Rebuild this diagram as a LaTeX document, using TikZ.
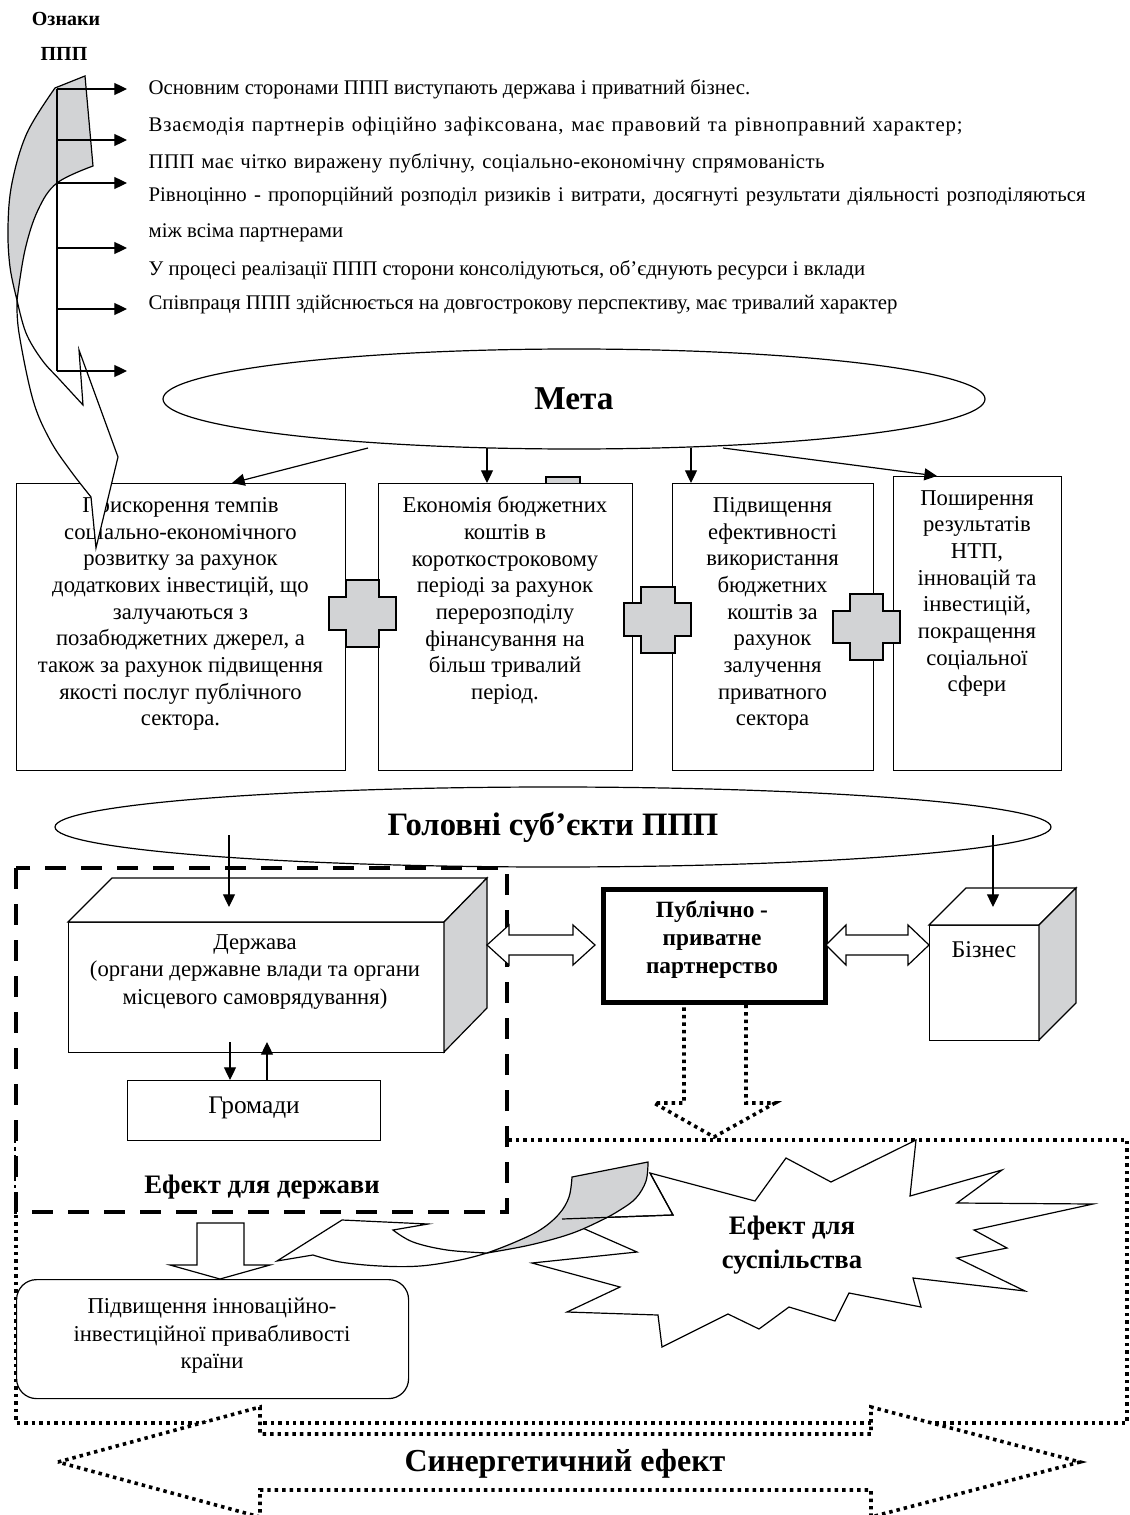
\documentclass[tikz,border=0pt]{standalone}
\usepackage{fontspec}
\setmainfont{Liberation Serif}
\usetikzlibrary{arrows.meta,shapes.geometric}
\definecolor{shade}{RGB}{210,211,213}
\newcommand\plusshape[8]{\draw[crossfill] (#2,#5) -- (#3,#5) -- (#3,#6) -- (#4,#6) -- (#4,#7) -- (#3,#7) -- (#3,#8) -- (#2,#8) -- (#2,#7) -- (#1,#7) -- (#1,#6) -- (#2,#6) -- cycle;}
\begin{document}
\begin{tikzpicture}[x=0.75pt,y=-0.75pt,line width=0.9pt,
  arr/.style={-{Triangle[length=9.5pt,width=9pt]}},
  lbl/.style={inner sep=0pt,anchor=west,font=\fontsize{15.6}{18}\selectfont},
  btxt/.style={inner sep=0pt,align=center,font=\fontsize{17}{20}\selectfont},
  frame/.style={draw,fill=white,inner sep=0pt,anchor=north west},
  dotl/.style={line width=2.7pt,dash pattern=on 2.6pt off 3pt},
  dashl/.style={line width=3.1pt,dash pattern=on 15.75pt off 11.25pt},
  crossfill/.style={draw,fill=shade},
  boldtxt/.style={inner sep=0pt,align=center,font=\fontsize{20}{25.5}\selectfont\bfseries},
]
\useasboundingbox (0,0) rectangle (1129,1515);
\fill[white] (0,0) rectangle (1129,1515);

% ---------- title ----------
\node[inner sep=0pt,font=\fontsize{15}{18}\selectfont\bfseries] (ozn) at (66,19) {Ознаки};
\node[inner sep=0pt,font=\fontsize{15}{18}\selectfont\bfseries] (ppp) at (64,54) {ППП};

% ---------- top text lines ----------
\node[lbl] (l1) at (148,89) {Основним сторонами ППП виступають держава і приватний бізнес.};
\node[lbl] (l2) at (148,127) {\addfontfeatures{LetterSpace=4}\makebox[610.5pt][s]{Взаємодія партнерів офіційно зафіксована, має правовий та рівноправний характер;}};
\node[lbl] (l3) at (148,163) {\addfontfeatures{LetterSpace=2}\makebox[507pt][s]{ППП має чітко виражену публічну, соціально-економічну спрямованість}};
\node[lbl] (l4) at (148,197) {\makebox[702.75pt][s]{Рівноцінно - пропорційний розподіл ризиків і витрати, досягнуті результати діяльності розподіляються}};
\node[lbl] (l5) at (148,233) {між всіма партнерами};
\node[lbl] (l6) at (148,270) {У процесі реалізації ППП сторони консолідуються, об’єднують ресурси і вклади};
\node[lbl] (l7) at (148,305) {Співпраця ППП здійснюється на довгострокову перспективу, має тривалий характер};

% ---------- Мета ----------
\node[draw,ellipse,minimum width=616.5pt,minimum height=75pt,inner sep=0pt,
      font=\fontsize{25}{30}\selectfont\bfseries] (meta) at (574,399) {Мета};

% small grey piece behind box 2
\draw[fill=shade] (546,477) rectangle (580,484);

% goal boxes
\node[frame,minimum width=246.75pt,minimum height=215.25pt] (b1) at (16,483) {};
\node[frame,minimum width=190.5pt,minimum height=215.25pt] (b2) at (378,483) {};
\node[frame,minimum width=150.75pt,minimum height=215.25pt] (b3) at (672,483) {};
\node[frame,minimum width=126pt,minimum height=220.5pt] (b4) at (893,476) {};

\node[btxt] (b1t) at (180.5,614) {Прискорення темпів\\соціально-економічного\\розвитку за рахунок\\додаткових інвестицій, що\\залучаються з\\позабюджетних джерел, а\\також за рахунок підвищення\\якості послуг публічного\\сектора.};
\node[btxt] (b2t) at (505,600.5) {Економія бюджетних\\коштів в\\короткостроковому\\періоді за рахунок\\перерозподілу\\фінансування на\\більш тривалий\\період.};
\node[btxt] (b3t) at (772.5,614) {Підвищення\\ефективності\\використання\\бюджетних\\коштів за\\рахунок\\залучення\\приватного\\сектора};
\node[btxt] (b4t) at (977,593.5) {Поширення\\результатів\\НТП,\\інновацій та\\інвестицій,\\покращення\\соціальної\\сфери};

% crosses
\plusshape{329}{346}{379}{396}{580}{597}{630}{647}
\plusshape{624}{641}{675}{691}{587}{603}{636}{653}
\plusshape{833}{850}{883}{900}{594}{611}{643}{660}

% arrows from Мета
\coordinate (m1s) at (368,448); \coordinate (m1e) at (232,483);
\coordinate (m2s) at (487,448); \coordinate (m2e) at (487,483);
\coordinate (m3s) at (691,448); \coordinate (m3e) at (691,483);
\coordinate (m4s) at (723,448); \coordinate (m4e) at (937,476);
\draw[arr] (m1s) -- (m1e);
\draw[arr] (m2s) -- (m2e);
\draw[arr] (m3s) -- (m3e);
\draw[arr] (m4s) -- (m4e);

% ---------- curved arrow (top left) ----------
\filldraw[fill=shade] (55,88) -- (85,76) -- (93,166)
  -- plot[smooth,tension=0.6] coordinates {(93,166) (57,183) (38,210) (25,250) (17,300)}
  -- plot[smooth,tension=0.6] coordinates {(17,300) (10,267) (8,227) (12,183) (27,133) (55,88)} -- cycle;
\filldraw[fill=white] plot[smooth,tension=0.6] coordinates {(17,300) (19,333) (33,400) (50,440) (70,470) (91,497)}
  -- (96,548) -- (118,457) -- (79,350) -- (83,405)
  -- plot[smooth,tension=0.6] coordinates {(83,405) (60,380) (42,360) (26,333) (17,300)} -- cycle;

% bracket with ticks
\coordinate (brT) at (57,89); \coordinate (brB) at (57,371);
\draw (brT) -- (brB);
\foreach \yy/\nm in {89/a,140/b,183/c,248/d,309/e,371/f}{
  \coordinate (tk\nm) at (57,\yy); \coordinate (te\nm) at (127,\yy);
  \draw[arr] (tk\nm) -- (te\nm);
}

% ---------- lower part ----------
\draw[dotl] (16,1140) rectangle (1127,1423);
\draw[dashl,fill=white] (16,868) rectangle (507,1212);

\node[draw,ellipse,minimum width=747pt,minimum height=60pt,inner sep=0pt,
      font=\fontsize{24.5}{30}\selectfont\bfseries] (subj) at (553,827) {Головні суб’єкти ППП};

% Держава cube
\node[frame,minimum width=282pt,minimum height=97.5pt] (state) at (68,922) {};
\draw[fill=white] (68,922) -- (112,878) -- (487,878) -- (444,922) -- cycle;
\draw[fill=shade] (444,922) -- (487,878) -- (487,1008) -- (444,1052) -- cycle;
\node[btxt,font=\fontsize{17}{20.6}\selectfont] (statet) at (255,972) {Держава\\(органи державне влади та органи\\місцевого самоврядування)};

% Громади
\node[frame,minimum width=189.75pt,minimum height=45pt] (comm) at (127,1080) {};
\node[inner sep=0pt,font=\fontsize{19}{22}\selectfont] (commt) at (254,1108) {Громади};
\coordinate (sd1) at (230,1042); \coordinate (sd2) at (230,1080);
\coordinate (su1) at (267,1080); \coordinate (su2) at (267,1042);
\draw[arr] (sd1) -- (sd2);
\draw[arr] (su1) -- (su2);

\node[boldtxt] (efst) at (262,1187) {Ефект для держави};

% Бізнес cube
\node[frame,minimum width=82.5pt,minimum height=86.25pt] (biz) at (929,925) {};
\draw[fill=white] (929,925) -- (966,888) -- (1076,888) -- (1039,925) -- cycle;
\draw[fill=shade] (1039,925) -- (1076,888) -- (1076,1003) -- (1039,1040) -- cycle;
\node[inner sep=0pt,font=\fontsize{18}{22}\selectfont] (bizt) at (984,950) {Бізнес};

% arrows from subjects ellipse
\coordinate (g1s) at (229,835); \coordinate (g1e) at (229,907);
\coordinate (g2s) at (993,835); \coordinate (g2e) at (993,907);
\draw[arr] (g1s) -- (g1e);
\draw[arr] (g2s) -- (g2e);

% dotted block arrow down from PPP
\draw[dotl,fill=white] (684,1000) -- (684,1103) -- (654,1103) -- (714,1137) -- (775,1103) -- (746,1103) -- (746,1000) -- cycle;

% PPP box
\node[draw,fill=white,line width=3.4pt,minimum width=166.5pt,minimum height=84.75pt,inner sep=0pt,anchor=north west] (pp) at (601,887) {};
\node[inner sep=0pt,align=center,font=\fontsize{17.5}{21}\selectfont\bfseries] (ppt) at (712,940) {Публічно -\\приватне\\партнерство};

% double block arrows
\draw[fill=white] (487,945) -- (509,925) -- (509,935) -- (573,935) -- (573,925) -- (595,945) -- (573,965) -- (573,955) -- (509,955) -- (509,965) -- cycle;
\draw[fill=white] (826,945) -- (846,925) -- (846,935) -- (908,935) -- (908,925) -- (929,945) -- (908,965) -- (908,955) -- (846,955) -- (846,965) -- cycle;

% star
\filldraw[fill=white] (650,1173) -- (755,1201) -- (786,1158) -- (831,1182) -- (916,1140) -- (910,1196) -- (1002,1170) -- (957,1203) -- (1093,1204) -- (974,1230) -- (1007,1248) -- (957,1258) -- (1025,1291) -- (913,1278) -- (921,1307) -- (849,1293) -- (835,1321) -- (789,1307) -- (759,1329) -- (728,1314) -- (662,1347) -- (658,1315) -- (567,1312) -- (620,1287) -- (532,1263) -- (637,1252) -- (562,1219) -- (673,1215) -- cycle;

% curved arrow (bottom)
\filldraw[fill=shade] (572,1177) -- (648,1162)
  -- plot[smooth,tension=0.6] coordinates {(648,1162) (646,1181) (636,1198) (620,1210) (600,1221) (570,1234) (530,1245) (487,1253)}
  -- plot[smooth,tension=0.6] coordinates {(487,1253) (513,1243) (540,1230) (559,1214) (569,1197) (572,1177)} -- cycle;
\filldraw[fill=white] plot[smooth,tension=0.6] coordinates {(487,1253) (447,1250) (413,1242) (393,1230)}
  -- (428,1224) -- (342,1220) -- (277,1261) -- (313,1255)
  -- plot[smooth,tension=0.6] coordinates {(313,1255) (340,1262) (380,1266) (420,1266) (460,1260) (487,1253)} -- cycle;
\draw (562,1219) -- (673,1215) -- (650,1173);

\node[boldtxt] (soct) at (792,1245) {Ефект для\\суспільства};

% white block arrow down
\draw[fill=white] (197,1223) -- (244,1223) -- (244,1265) -- (270,1265) -- (220,1279) -- (170,1265) -- (197,1265) -- cycle;

% rounded box
\node[draw,fill=white,rounded corners=15pt,minimum width=294pt,minimum height=89.25pt,inner sep=0pt,anchor=north west] (innov) at (16,1279) {};
\node[btxt,font=\fontsize{17}{20.6}\selectfont] (innovt) at (212,1336) {Підвищення інноваційно-\\інвестиційної привабливості\\країни};

% synergy arrow
\draw[dotl,fill=white] (58,1462) -- (260,1407) -- (260,1434) -- (871,1434) -- (871,1407) -- (1080,1462) -- (871,1517) -- (871,1490) -- (260,1490) -- (260,1517) -- cycle;
\node[inner sep=0pt,font=\fontsize{24}{28}\selectfont\bfseries] (syn) at (565,1464) {Синергетичний ефект};

\end{tikzpicture}
\end{document}
